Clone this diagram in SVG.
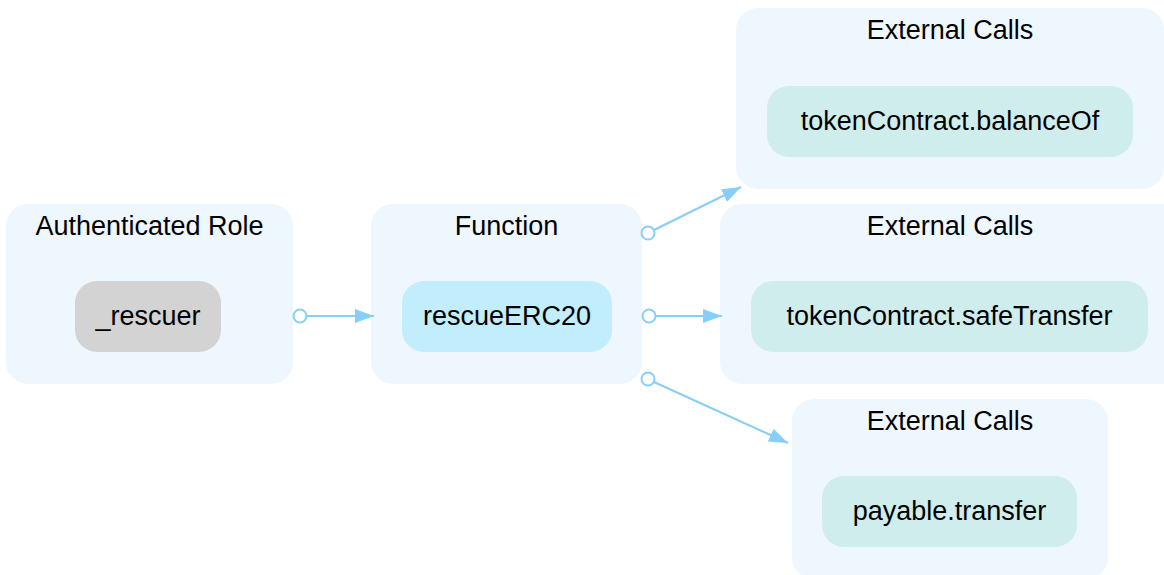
<svg xmlns="http://www.w3.org/2000/svg" width="1164" height="575" viewBox="0 0 1164 575">
  <style>
    .cluster { fill: #eef6fe; }
    .title { font-family: "Liberation Sans", Arial, sans-serif; font-size: 27px; fill: #000; text-anchor: middle; }
    .label { font-family: "Liberation Sans", Arial, sans-serif; font-size: 27px; fill: #000; text-anchor: middle; }
    .role { fill: #d3d3d3; }
    .func { fill: #c1edfd; }
    .ext { fill: #d0eded; }
    .edge { stroke: #87cefa; stroke-width: 2; fill: none; }
    .tail { stroke: #87cefa; stroke-width: 2; fill: #fff; }
  </style>
  <defs>
    <marker id="arrow" markerUnits="userSpaceOnUse" markerWidth="20" markerHeight="16" refX="19" refY="7" orient="auto">
      <path d="M0,0 L19,7 L0,14 Z" fill="#87cefa"/>
    </marker>
  </defs>
  <rect width="1164" height="575" fill="#fff"/>

  <g id="cluster-role">
    <rect class="cluster" x="6" y="204" width="287" height="180" rx="22"/>
    <text class="title" x="149.5" y="235">Authenticated Role</text>
  </g>
  <g id="node-rescuer">
    <rect class="role" x="75" y="281" width="146" height="71" rx="22"/>
    <text class="label" x="148" y="325">_rescuer</text>
  </g>

  <g id="cluster-function">
    <rect class="cluster" x="371" y="204" width="271" height="180" rx="22"/>
    <text class="title" x="506.5" y="235">Function</text>
  </g>
  <g id="node-rescueERC20">
    <rect class="func" x="402" y="281" width="210" height="71" rx="22"/>
    <text class="label" x="507" y="325">rescueERC20</text>
  </g>

  <g id="cluster-ext-balanceOf">
    <rect class="cluster" x="736" y="8" width="428" height="181" rx="22"/>
    <text class="title" x="950" y="39">External Calls</text>
  </g>
  <g id="node-balanceOf">
    <rect class="ext" x="767" y="86" width="366" height="71" rx="22"/>
    <text class="label" x="950" y="130">tokenContract.balanceOf</text>
  </g>

  <g id="cluster-ext-safeTransfer">
    <rect class="cluster" x="720" y="204" width="466" height="180" rx="22"/>
    <text class="title" x="950" y="235">External Calls</text>
  </g>
  <g id="node-safeTransfer">
    <rect class="ext" x="751" y="281" width="397" height="71" rx="22"/>
    <text class="label" x="949.5" y="325">tokenContract.safeTransfer</text>
  </g>

  <g id="cluster-ext-transfer">
    <rect class="cluster" x="792" y="399" width="316" height="180" rx="22"/>
    <text class="title" x="950" y="430">External Calls</text>
  </g>
  <g id="node-transfer">
    <rect class="ext" x="822" y="476" width="255" height="71" rx="22"/>
    <text class="label" x="949.5" y="520">payable.transfer</text>
  </g>

  <g id="connectors">
    <path class="edge" d="M306,316 L374,316" marker-end="url(#arrow)"/>
    <circle class="tail" cx="300" cy="316" r="6.5"/>

    <path class="edge" d="M655,316 L722,316" marker-end="url(#arrow)"/>
    <circle class="tail" cx="649" cy="316" r="6.5"/>

    <path class="edge" d="M654,230 L741,187" marker-end="url(#arrow)"/>
    <circle class="tail" cx="648" cy="233" r="6.5"/>

    <path class="edge" d="M654,382 L788,443" marker-end="url(#arrow)"/>
    <circle class="tail" cx="648" cy="379" r="6.5"/>
  </g>
</svg>
